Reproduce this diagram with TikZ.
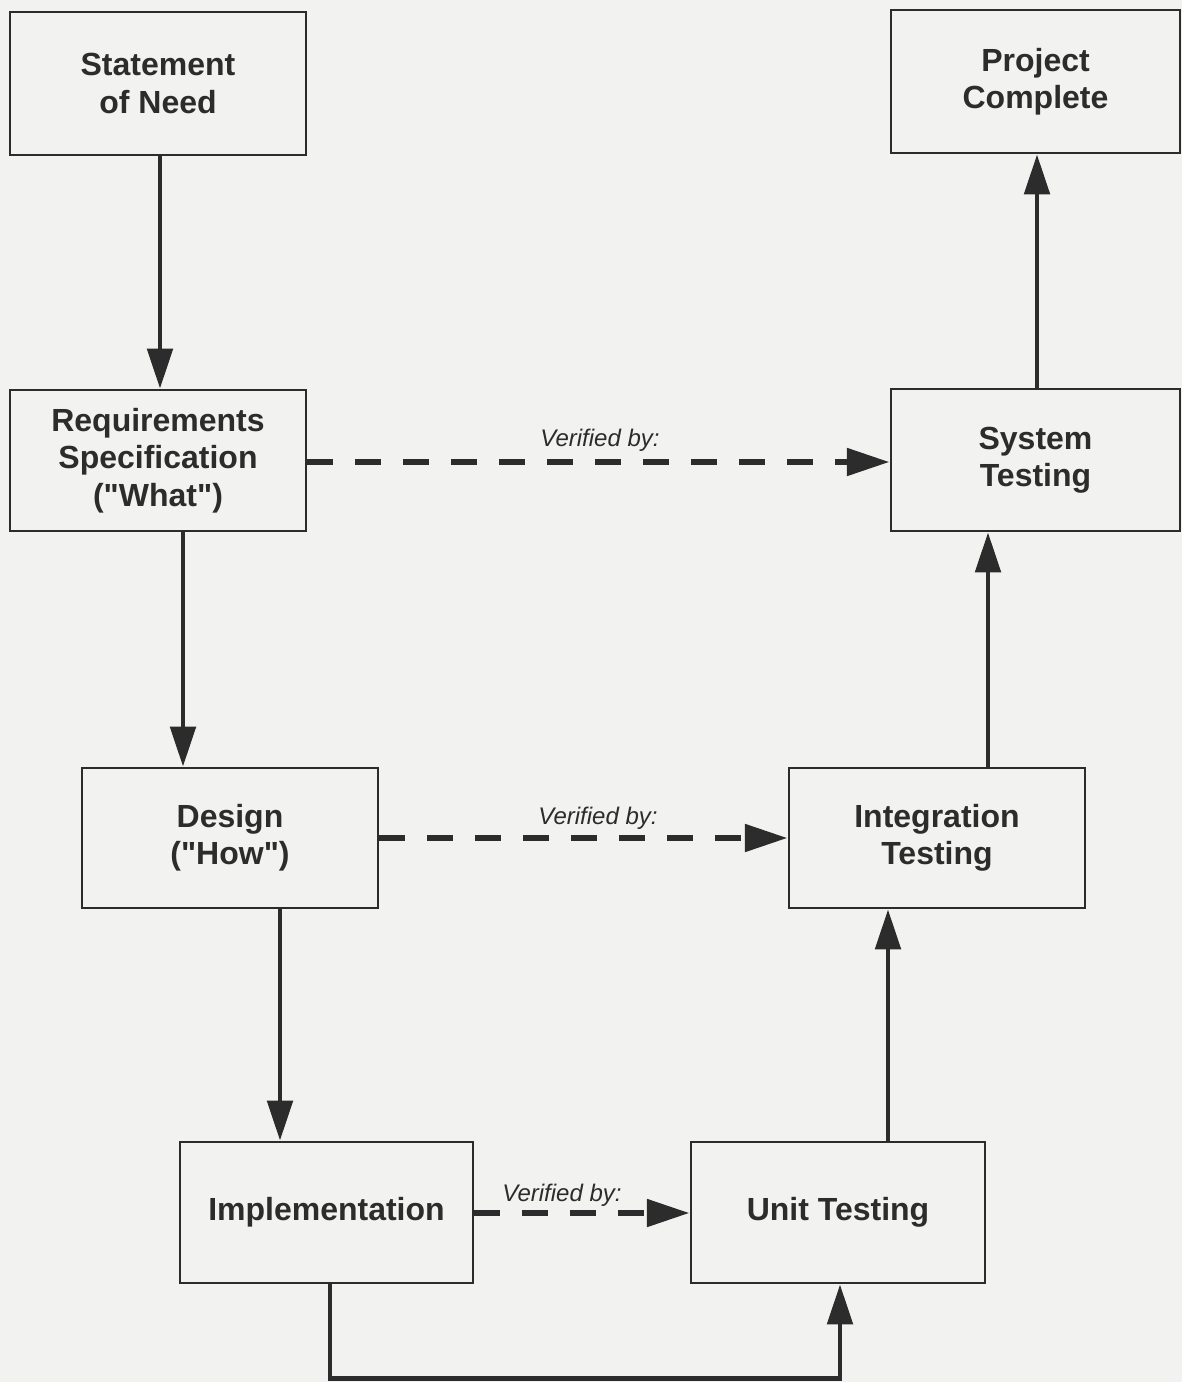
\documentclass[tikz,border=0pt]{standalone}
\usepackage{fontspec}
\setmainfont{Liberation Sans}
\usetikzlibrary{arrows.meta,calc}
\definecolor{paper}{RGB}{242,242,240}
\definecolor{ink}{RGB}{44,44,44}
\tikzset{
  box/.style={draw=ink, line width=2.2pt, fill=none, align=center,
    font=\fontsize{24pt}{28pt}\selectfont\bfseries, text=ink, inner sep=0pt},
  flow/.style={draw=ink, line width=3.4pt, -{Triangle[length=30pt,width=19pt]}},
  verify/.style={draw=ink, line width=4.6pt, dash pattern=on 19pt off 17pt,
    -{Triangle[length=32pt,width=20pt]}},
  vlabel/.style={font=\fontsize{18pt}{20pt}\selectfont\itshape, text=ink, inner sep=0pt}
}
\begin{document}
\begin{tikzpicture}[x=0.75pt,y=-0.75pt]
\useasboundingbox (0,0) rectangle (1182,1382);
\fill[paper] (0,0) rectangle (1182,1382);

\node[box, minimum width=296*0.75pt, minimum height=143*0.75pt] (stmt) at (158,83.5) {Statement\\of Need};
\node[box, minimum width=289*0.75pt, minimum height=143*0.75pt] (proj) at (1035.5,81.5) {Project\\Complete};
\node[box, minimum width=296*0.75pt, minimum height=141*0.75pt] (req) at (158,460.5) {Requirements\\Specification\\(\textquotedbl What\textquotedbl)};
\node[box, minimum width=289*0.75pt, minimum height=142*0.75pt] (sys) at (1035.5,460) {System\\Testing};
\node[box, minimum width=296*0.75pt, minimum height=140*0.75pt] (des) at (230,838) {Design\\(\textquotedbl How\textquotedbl)};
\node[box, minimum width=296*0.75pt, minimum height=140*0.75pt] (integ) at (937,838) {Integration\\Testing};
\node[box, minimum width=293*0.75pt, minimum height=141*0.75pt] (impl) at (326.5,1212.5) {Implementation};
\node[box, minimum width=294*0.75pt, minimum height=141*0.75pt] (unit) at (838,1212.5) {Unit Testing};

% solid flow arrows
\draw[flow] ($(stmt.south)+(2,0)$) -- ($(req.north)+(2,0)$);
\draw[flow] ($(req.south)+(25,0)$) -- ($(des.north)+(-47,0)$);
\draw[flow] ($(des.south)+(50,0)$) -- ($(impl.north)+(-46.5,0)$);
\draw[flow] ($(impl.south)+(3.5,0)$) -- ++(0,94) -| ($(unit.south)+(2,0)$);
\draw[flow] ($(unit.north)+(50,0)$) -- ($(integ.south)+(-49,0)$);
\draw[flow] ($(integ.north)+(51,0)$) -- ($(sys.south)+(-47.5,0)$);
\draw[flow] ($(sys.north)+(1.5,0)$) -- ($(proj.south)+(1.5,0)$);

% verification arrows
\draw[verify] ($(req.east)+(0,1.5)$) -- ($(sys.west)+(0,2)$);
\draw[verify] (des.east) -- (integ.west);
\draw[verify] ($(impl.east)+(0,0.5)$) -- ($(unit.west)+(0,0.5)$);

\node[vlabel] (v1) at (600,440) {Verified by:};
\node[vlabel] (v2) at (598,818) {Verified by:};
\node[vlabel] (v3) at (562,1195) {Verified by:};
\end{tikzpicture}
\end{document}
